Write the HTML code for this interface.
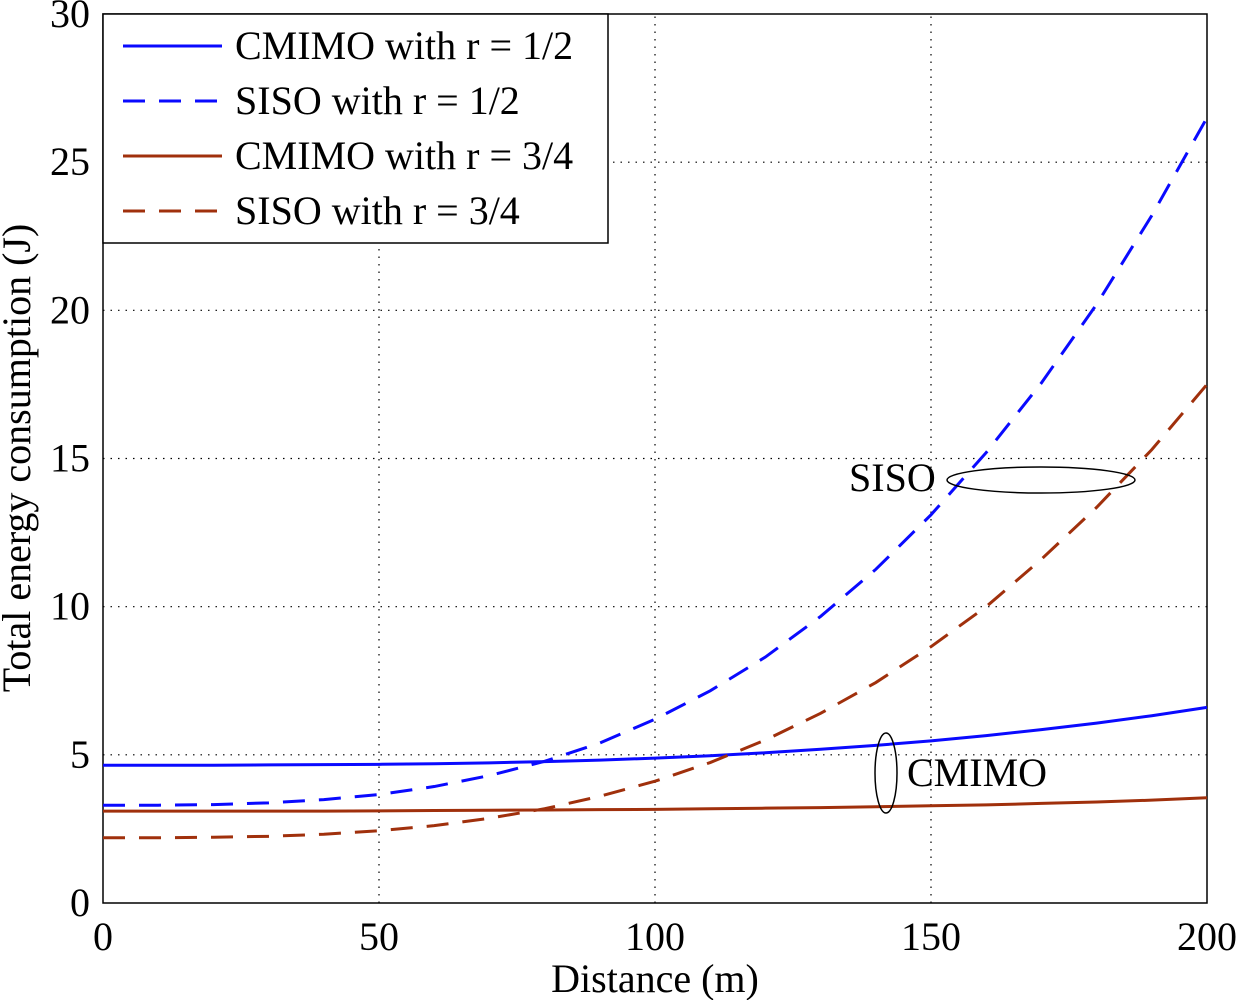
<!DOCTYPE html>
<html><head><meta charset="utf-8"><style>body{margin:0;background:#fff}svg{display:block}text{font-family:"Liberation Serif",serif;fill:#000}</style></head>
<body>
<svg id="c" width="1237" height="1000"></svg>
<script>
const dist=[0,10,20,30,40,50,60,70,80,90,100,110,120,130,140,150,160,170,180,190,200];
const cmimoHalf=[4.65,4.65,4.65,4.66,4.67,4.68,4.70,4.73,4.77,4.82,4.89,4.97,5.07,5.19,5.32,5.47,5.65,5.85,6.07,6.32,6.6];
const sisoHalf=[3.3,3.3,3.32,3.38,3.49,3.66,3.93,4.3,4.78,5.4,6.2,7.16,8.3,9.67,11.26,13.1,15.2,17.55,20.2,23.2,26.5];
const cmimoThree=[3.1,3.1,3.1,3.1,3.1,3.11,3.12,3.13,3.14,3.15,3.16,3.18,3.2,3.22,3.25,3.28,3.31,3.36,3.41,3.47,3.55];
const sisoThree=[2.2,2.2,2.22,2.25,2.32,2.44,2.61,2.86,3.18,3.6,4.11,4.74,5.5,6.4,7.44,8.65,10.0,11.6,13.35,15.3,17.5];
const xTicks=[0,50,100,150,200];
const yTicks=[0,5,10,15,20,25,30];
const X0=103,X1=1207,Y0=903,Y1=14;
const sx=v=>X0+(X1-X0)*v/200, sy=v=>Y0-(Y0-Y1)*v/30;
const svg=document.getElementById('c');const NS='http://www.w3.org/2000/svg';
function mk(t,a,p){const e=document.createElementNS(NS,t);for(const k in a)e.setAttribute(k,a[k]);(p||svg).appendChild(e);return e;}
xTicks.forEach(v=>{if(v>0&&v<200){const g=mk('line',{x1:sx(v),x2:sx(v),y1:Y0,y2:Y1,stroke:'#000','stroke-width':1.2,'stroke-dasharray':'1.5,6'});

}
const t=mk('text',{x:sx(v),y:950,'font-size':40,'text-anchor':'middle'});t.textContent=v;

});
yTicks.forEach(v=>{if(v>0&&v<30){const g=mk('line',{x1:X0,x2:X1,y1:sy(v),y2:sy(v),stroke:'#000','stroke-width':1.2,'stroke-dasharray':'1.5,6'});

}
const t=mk('text',{x:90,y:sy(v)+13,'font-size':40,'text-anchor':'end'});t.textContent=v;

});
const ax=mk('rect',{x:X0,y:Y1,width:X1-X0,height:Y0-Y1,fill:'none',stroke:'#000','stroke-width':1.5});


const series=[[cmimoHalf,'#0a0aff',null,'cmimo-half-line'],[sisoHalf,'#0a0aff','22,14','siso-half-line'],[cmimoThree,'#a0300c',null,'cmimo-three-quarter-line'],[sisoThree,'#a0300c','22,14','siso-three-quarter-line']];
series.forEach(s=>{const p=mk('polyline',{points:dist.map((d,i)=>sx(d)+','+sy(s[0][i])).join(' '),fill:'none',stroke:s[1],'stroke-width':3});if(s[2])p.setAttribute('stroke-dasharray',s[2]);

});
const xl=mk('text',{x:655,y:992,'font-size':40,'text-anchor':'middle'});xl.textContent='Distance (m)';

const yl=mk('text',{x:0,y:0,'font-size':40,'text-anchor':'middle',transform:'translate(30,458) rotate(-90)'});yl.textContent='Total energy consumption (J)';

const e1=mk('ellipse',{cx:1041,cy:480,rx:94,ry:13,fill:'none',stroke:'#000','stroke-width':1.5});

const t1=mk('text',{x:849,y:491,'font-size':40});t1.textContent='SISO';

const e2=mk('ellipse',{cx:886,cy:773,rx:11,ry:40,fill:'none',stroke:'#000','stroke-width':1.5});

const t2=mk('text',{x:907,y:786,'font-size':40});t2.textContent='CMIMO';

const lg=mk('rect',{x:X0,y:Y1,width:505,height:229,fill:'#fff',stroke:'#000','stroke-width':1.5});

const labels=['CMIMO with r = 1/2','SISO with r = 1/2','CMIMO with r = 3/4','SISO with r = 3/4'];
labels.forEach((l,i)=>{const y=46+i*55;const ln=mk('line',{x1:123,x2:222,y1:y,y2:y,stroke:series[i][1],'stroke-width':3});if(series[i][2])ln.setAttribute('stroke-dasharray',series[i][2]);

const t=mk('text',{x:235,y:y+13,'font-size':40});t.textContent=l;
});
</script>
</body></html>
